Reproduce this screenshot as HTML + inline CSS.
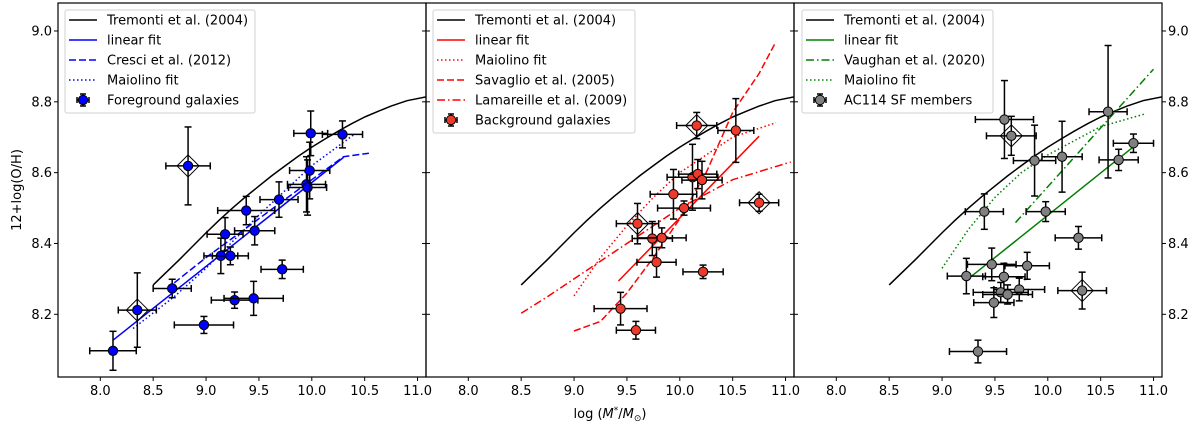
<!DOCTYPE html>
<html><head><meta charset="utf-8">
<style>
html,body{margin:0;padding:0;background:#fff;}
svg{display:block;font-family:"DejaVu Sans","Liberation Sans",sans-serif;}
</style></head>
<body>
<svg id="fig" width="1200" height="428" viewBox="0 0 1200 428" xmlns="http://www.w3.org/2000/svg"></svg>
<script>
// ---- data ----
const tremX = [8.5, 8.75, 9.0, 9.125, 9.25, 9.375, 9.5, 9.625, 9.75, 9.875, 10.0, 10.125, 10.25, 10.375, 10.5, 10.625, 10.75, 10.9, 11.1];
const tremY = [8.283, 8.355, 8.430, 8.466, 8.500, 8.532, 8.562, 8.592, 8.620, 8.647, 8.672, 8.695, 8.717, 8.738, 8.757, 8.773, 8.788, 8.803, 8.815];

// panel 1 foreground
const fgX    = [8.12, 8.35, 8.83, 8.68, 8.98, 9.18, 9.14, 9.23, 9.27, 9.45, 9.38, 9.46, 9.72, 9.69, 9.95, 9.96, 9.98, 9.99, 10.29];
const fgY    = [8.097, 8.212, 8.619, 8.273, 8.170, 8.426, 8.365, 8.365, 8.240, 8.245, 8.493, 8.436, 8.327, 8.524, 8.567, 8.558, 8.606, 8.711, 8.708];
const fgXerr = [0.22, 0.18, 0.21, 0.18, 0.28, 0.17, 0.16, 0.17, 0.22, 0.28, 0.27, 0.19, 0.20, 0.18, 0.18, 0.18, 0.19, 0.16, 0.19];
const fgYerr = [0.055, 0.105, 0.11, 0.026, 0.024, 0.047, 0.05, 0.025, 0.023, 0.048, 0.04, 0.04, 0.026, 0.05, 0.078, 0.078, 0.08, 0.063, 0.038];
const fgDiamond = [1, 2];
const fgLinX = [8.12, 10.30], fgLinY = [8.127, 8.643];
const cresciX = [8.7, 9.0, 9.5, 10.0, 10.3, 10.54], cresciY = [8.289, 8.36, 8.47, 8.58, 8.645, 8.655];
const fgMaiX = [8.31, 8.7, 9.0, 9.5, 10.0, 10.41], fgMaiY = [8.16, 8.25, 8.33, 8.48, 8.62, 8.71];

// panel 2 background
const bgX    = [10.16, 10.53, 10.12, 10.17, 10.21, 9.94, 10.04, 10.75, 9.60, 9.74, 9.83, 9.78, 10.22, 9.44, 9.585];
const bgY    = [8.733, 8.719, 8.587, 8.596, 8.579, 8.539, 8.500, 8.515, 8.456, 8.414, 8.416, 8.347, 8.320, 8.216, 8.155];
const bgXerr = [0.19, 0.17, 0.24, 0.18, 0.19, 0.22, 0.25, 0.185, 0.20, 0.19, 0.23, 0.185, 0.19, 0.25, 0.185];
const bgYerr = [0.037, 0.09, 0.093, 0.041, 0.053, 0.07, 0.02, 0.024, 0.057, 0.048, 0.028, 0.042, 0.019, 0.046, 0.025];
const bgDiamond = [0, 7, 8];
const bgLinX = [9.42, 10.75], bgLinY = [8.294, 8.703];
const bgMaiX = [9.0, 9.25, 9.5, 9.75, 10.0, 10.5, 10.91], bgMaiY = [8.252, 8.36, 8.45, 8.53, 8.60, 8.70, 8.741];
const savX = [9.0, 9.25, 9.5, 9.75, 10.0, 10.25, 10.5, 10.75, 10.91], savY = [8.153, 8.18, 8.26, 8.36, 8.47, 8.60, 8.77, 8.88, 8.97];
const lamX = [8.5, 8.75, 9.0, 9.5, 10.0, 10.5, 11.05], lamY = [8.203, 8.25, 8.30, 8.40, 8.50, 8.58, 8.63];

// panel 3 cluster members
const cmX    = [10.57, 9.59, 9.655, 10.81, 10.67, 9.875, 10.135, 9.40, 9.98, 10.29, 9.47, 9.23, 9.585, 9.805, 9.73, 9.555, 9.62, 9.49, 10.325, 9.34];
const cmY    = [8.772, 8.750, 8.704, 8.683, 8.636, 8.634, 8.645, 8.490, 8.490, 8.416, 8.341, 8.308, 8.306, 8.337, 8.270, 8.262, 8.256, 8.233, 8.267, 8.095];
const cmXerr = [0.18, 0.275, 0.235, 0.19, 0.185, 0.2, 0.19, 0.18, 0.185, 0.22, 0.23, 0.18, 0.2, 0.21, 0.24, 0.26, 0.235, 0.19, 0.23, 0.27];
const cmYerr = [0.187, 0.11, 0.055, 0.026, 0.03, 0.1, 0.1, 0.05, 0.028, 0.032, 0.046, 0.05, 0.038, 0.038, 0.032, 0.028, 0.027, 0.042, 0.052, 0.032];
const cmDiamond = [2, 18];
const cmLinX = [9.28, 10.81], cmLinY = [8.308, 8.673];
const vauX = [9.695, 11.0], vauY = [8.459, 8.892];
const cmMaiX = [9.0, 9.25, 9.5, 9.75, 10.0, 10.5, 10.91], cmMaiY = [8.33, 8.44, 8.53, 8.60, 8.65, 8.73, 8.765];

const xTicks = [8.0, 8.5, 9.0, 9.5, 10.0, 10.5, 11.0];
const xTickLabels = ["8.0", "8.5", "9.0", "9.5", "10.0", "10.5", "11.0"];
const yTicks = [8.2, 8.4, 8.6, 8.8, 9.0];
const yTickLabels = ["8.2", "8.4", "8.6", "8.8", "9.0"];

// ---- layout ----
const NS = "http://www.w3.org/2000/svg";
const svg = document.getElementById("fig");
const TOP = 3, BOT = 377, PW = 368;
const panelsLeft = [58, 426, 794];
const XMIN = 7.6, XMAX = 11.08, YMIN = 8.023, YMAX = 9.079;
function sx(p, v) { return panelsLeft[p] + (v - XMIN) / (XMAX - XMIN) * PW; }
function sy(v) { return BOT - (v - YMIN) / (YMAX - YMIN) * (BOT - TOP); }
function mk(tag, attrs, parent) {
  const e = document.createElementNS(NS, tag);
  for (const k in attrs) e.setAttribute(k, attrs[k]);
  (parent || svg).appendChild(e);
  return e;
}
const dashes = { solid: "", dashed: "7,3", dotted: "1.5,2.5", dashdot: "8,3,1.5,3" };

function clipFor(p) {
  const cp = mk("clipPath", { id: "clip" + p });
  mk("rect", { x: panelsLeft[p], y: TOP, width: PW, height: BOT - TOP }, cp);
}
function line(p, xs, ys, color, style, lw, name, g) {
  let d = "";
  for (let i = 0; i < xs.length; i++) d += (i ? "L" : "M") + sx(p, xs[i]).toFixed(1) + "," + sy(ys[i]).toFixed(1);
  const e = mk("path", { d: d, fill: "none", stroke: color, "stroke-width": lw, "stroke-dasharray": dashes[style], "stroke-linejoin": "round" }, g);
  
  
  return e;
}
function points(p, xs, ys, xe, ye, dia, face, name, g) {
  for (let i = 0; i < xs.length; i++) {
    const cx = sx(p, xs[i]), cy = sy(ys[i]);
    const x1 = sx(p, xs[i] - xe[i]), x2 = sx(p, xs[i] + xe[i]);
    const y1 = sy(ys[i] + ye[i]), y2 = sy(ys[i] - ye[i]);
    const grp = mk("g", {}, g);
    
    
    const st = { stroke: "#000", "stroke-width": 1.5 };
    mk("line", Object.assign({ x1: x1, y1: cy, x2: x2, y2: cy }, st), grp);
    mk("line", Object.assign({ x1: cx, y1: y1, x2: cx, y2: y2 }, st), grp);
    mk("line", Object.assign({ x1: x1, y1: cy - 3.5, x2: x1, y2: cy + 3.5 }, st), grp);
    mk("line", Object.assign({ x1: x2, y1: cy - 3.5, x2: x2, y2: cy + 3.5 }, st), grp);
    mk("line", Object.assign({ x1: cx - 3.5, y1: y1, x2: cx + 3.5, y2: y1 }, st), grp);
    mk("line", Object.assign({ x1: cx - 3.5, y1: y2, x2: cx + 3.5, y2: y2 }, st), grp);
    if (dia.indexOf(i) >= 0) {
      const r = 11;
      mk("polygon", { points: `${cx},${cy - r} ${cx + r},${cy} ${cx},${cy + r} ${cx - r},${cy}`, fill: "none", stroke: "#000", "stroke-width": 1 }, grp);
    }
    mk("circle", { cx: cx, cy: cy, r: 4.7, fill: face, stroke: "#000", "stroke-width": 1 }, grp);
  }
}
function legend(x, y, w, entries, name) {
  const g = mk("g", {});
  
  
  const h = entries.length * 20 + 3;
  mk("rect", { x: x, y: y, width: w, height: h, rx: 2, fill: "#fff", "fill-opacity": 0.85, stroke: "#d0d0d0", "stroke-width": 1 }, g);
  entries.forEach((en, i) => {
    const ey = y + 10 + i * 20;
    const row = mk("g", {}, g);
    
    
    if (en.marker) {
      const cx = x + 18;
      mk("line", { x1: cx - 6, y1: ey, x2: cx + 6, y2: ey, stroke: "#000", "stroke-width": 1.5 }, row);
      mk("line", { x1: cx, y1: ey - 6, x2: cx, y2: ey + 6, stroke: "#000", "stroke-width": 1.5 }, row);
      mk("line", { x1: cx - 6, y1: ey - 3, x2: cx - 6, y2: ey + 3, stroke: "#000", "stroke-width": 1.5 }, row);
      mk("line", { x1: cx + 6, y1: ey - 3, x2: cx + 6, y2: ey + 3, stroke: "#000", "stroke-width": 1.5 }, row);
      mk("line", { x1: cx - 3, y1: ey - 6, x2: cx + 3, y2: ey - 6, stroke: "#000", "stroke-width": 1.5 }, row);
      mk("line", { x1: cx - 3, y1: ey + 6, x2: cx + 3, y2: ey + 6, stroke: "#000", "stroke-width": 1.5 }, row);
      mk("circle", { cx: cx, cy: ey, r: 4.7, fill: en.marker, stroke: "#000", "stroke-width": 1 }, row);
    } else {
      mk("line", { x1: x + 4, y1: ey, x2: x + 32, y2: ey, stroke: en.color, "stroke-width": 1.5, "stroke-dasharray": dashes[en.style] }, row);
    }
    const t = mk("text", { x: x + 42, y: ey + 4.5, "font-size": 13, fill: "#000" }, row);
    t.textContent = en.label;
  });
}

// panels
for (let p = 0; p < 3; p++) {
  clipFor(p);
  const g = mk("g", { "clip-path": "url(#clip" + p + ")" });
  
  
  line(p, tremX, tremY, "#000", "solid", 1.5, "tremonti-curve", g);
  if (p === 0) {
    line(p, fgLinX, fgLinY, "#0000ff", "solid", 1.5, "linear-fit-line", g);
    line(p, cresciX, cresciY, "#0000ff", "dashed", 1.5, "cresci-line", g);
    line(p, fgMaiX, fgMaiY, "#0000ff", "dotted", 1.5, "maiolino-fit-line", g);
    points(p, fgX, fgY, fgXerr, fgYerr, fgDiamond, "#0000ff", "foreground-galaxy", g);
  } else if (p === 1) {
    line(p, bgLinX, bgLinY, "#ff0000", "solid", 1.5, "linear-fit-line", g);
    line(p, bgMaiX, bgMaiY, "#ff0000", "dotted", 1.5, "maiolino-fit-line", g);
    line(p, savX, savY, "#ff0000", "dashed", 1.5, "savaglio-line", g);
    line(p, lamX, lamY, "#ff0000", "dashdot", 1.5, "lamareille-line", g);
    points(p, bgX, bgY, bgXerr, bgYerr, bgDiamond, "#ee3a2a", "background-galaxy", g);
  } else {
    line(p, cmLinX, cmLinY, "#008000", "solid", 1.5, "linear-fit-line", g);
    line(p, vauX, vauY, "#008000", "dashdot", 1.5, "vaughan-line", g);
    line(p, cmMaiX, cmMaiY, "#008000", "dotted", 1.5, "maiolino-fit-line", g);
    points(p, cmX, cmY, cmXerr, cmYerr, cmDiamond, "#808080", "cluster-member", g);
  }
  const fr = mk("rect", { x: panelsLeft[p], y: TOP, width: PW, height: BOT - TOP, fill: "none", stroke: "#000", "stroke-width": 1.2 });
  
  
  xTicks.forEach((v, i) => {
    const x = sx(p, v);
    mk("line", { x1: x, y1: BOT, x2: x, y2: BOT + 4, stroke: "#000", "stroke-width": 1 });
    const t = mk("text", { x: x, y: BOT + 18, "font-size": 13, "text-anchor": "middle", fill: "#000" });
    
    
    t.textContent = xTickLabels[i];
  });
  yTicks.forEach((v) => {
    const y = sy(v), L = panelsLeft[p], R = L + PW;
    if (p === 0) mk("line", { x1: L - 4, y1: y, x2: L, y2: y, stroke: "#000", "stroke-width": 1 });
    else mk("line", { x1: L, y1: y, x2: L + 4, y2: y, stroke: "#000", "stroke-width": 1 });
    if (p === 2) mk("line", { x1: R, y1: y, x2: R + 4, y2: y, stroke: "#000", "stroke-width": 1 });
    else mk("line", { x1: R - 4, y1: y, x2: R, y2: y, stroke: "#000", "stroke-width": 1 });
  });
}
yTicks.forEach((v, i) => {
  const t = mk("text", { x: 52, y: sy(v) + 4.5, "font-size": 13, "text-anchor": "end", fill: "#000" });
  
  
  t.textContent = yTickLabels[i];
  const t2 = mk("text", { x: 1168, y: sy(v) + 4.5, "font-size": 13, "text-anchor": "start", fill: "#000" });
  
  
  t2.textContent = yTickLabels[i];
});
const yl = mk("text", { x: 0, y: 0, "font-size": 13, "text-anchor": "middle", transform: "translate(21,190) rotate(-90)" });


yl.textContent = "12+log(O/H)";
const xl = mk("text", { x: 610, y: 418, "font-size": 13, "text-anchor": "middle" });


xl.innerHTML = 'log (<tspan font-style="italic">M</tspan><tspan font-size="9" dy="-5">*</tspan><tspan dy="5">/</tspan><tspan font-style="italic">M</tspan><tspan font-size="9" dy="3">⊙</tspan><tspan dy="-3">)</tspan>';

legend(65, 10, 190, [
  { label: "Tremonti et al. (2004)", color: "#000", style: "solid" },
  { label: "linear fit", color: "#0000ff", style: "solid" },
  { label: "Cresci et al. (2012)", color: "#0000ff", style: "dashed" },
  { label: "Maiolino fit", color: "#0000ff", style: "dotted" },
  { label: "Foreground galaxies", marker: "#0000ff" }
], "legend-panel-1");
legend(433, 10, 202, [
  { label: "Tremonti et al. (2004)", color: "#000", style: "solid" },
  { label: "linear fit", color: "#ff0000", style: "solid" },
  { label: "Maiolino fit", color: "#ff0000", style: "dotted" },
  { label: "Savaglio et al. (2005)", color: "#ff0000", style: "dashed" },
  { label: "Lamareille et al. (2009)", color: "#ff0000", style: "dashdot" },
  { label: "Background galaxies", marker: "#ee3a2a" }
], "legend-panel-2");
legend(802, 10, 191, [
  { label: "Tremonti et al. (2004)", color: "#000", style: "solid" },
  { label: "linear fit", color: "#008000", style: "solid" },
  { label: "Vaughan et al. (2020)", color: "#008000", style: "dashdot" },
  { label: "Maiolino fit", color: "#008000", style: "dotted" },
  { label: "AC114 SF members", marker: "#808080" }
], "legend-panel-3");
</script>
</body></html>
